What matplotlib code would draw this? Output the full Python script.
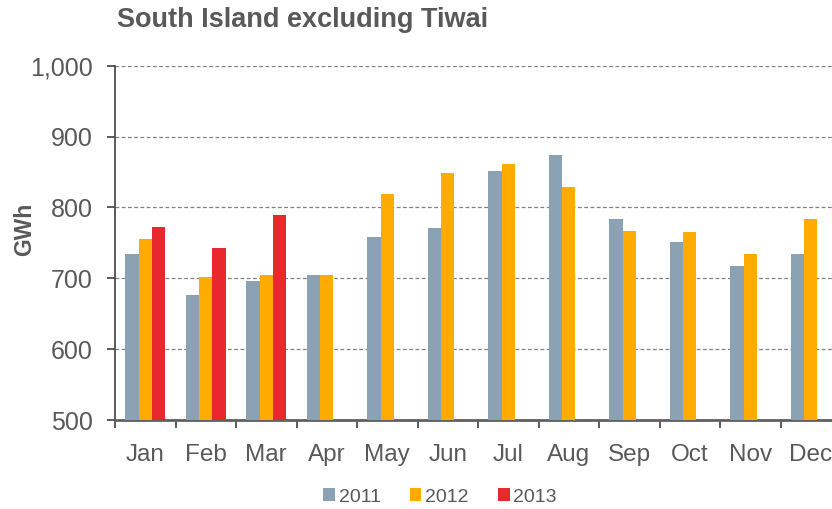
import numpy as np
import matplotlib.pyplot as plt
from matplotlib.ticker import FuncFormatter, FixedLocator

plt.rcParams['font.family'] = ['Liberation Sans', 'DejaVu Sans']

# Data
months = ['Jan', 'Feb', 'Mar', 'Apr', 'May', 'Jun', 'Jul', 'Aug', 'Sep', 'Oct', 'Nov', 'Dec']
gwh_2011 = [734, 677, 696, 705, 758, 771, 852, 874, 783, 751, 718, 734]
gwh_2012 = [756, 702, 705, 705, 819, 848, 861, 829, 767, 765, 734, 783]
gwh_2013 = [772, 743, 789]

c2011 = '#8ba1b4'
c2012 = '#ffab00'
c2013 = '#e8282c'
txt = '#595959'

fig = plt.figure(figsize=(8.32, 5.09), dpi=100)
ax = fig.add_axes([115/832, 1-420/509, 726/832, (420-65.7)/509])

x = np.arange(len(months))
w = 0.22
ax.bar(x - w, gwh_2011, w, color=c2011, label='2011', zorder=3)
ax.bar(x, gwh_2012, w, color=c2012, label='2012', zorder=3)
ax.bar(x[:len(gwh_2013)] + w, gwh_2013, w, color=c2013, label='2013', zorder=3)

ax.set_ylim(500, 1000)
ax.set_xlim(-0.5, len(months) - 0.5)
ax.set_yticks(np.arange(500, 1001, 100))
ax.yaxis.set_major_formatter(FuncFormatter(lambda v, p: f'{int(v):,}'))
ax.grid(axis='y', linestyle=(0, (3, 2)), color='#808080', linewidth=0.9, zorder=0)

ax.set_xticks(x)
ax.set_xticklabels(months)
ax.xaxis.set_minor_locator(FixedLocator(np.arange(-0.5, len(months), 1)))
ax.tick_params(axis='x', which='major', length=0, pad=17, labelsize=17.5, labelcolor=txt)
ax.tick_params(axis='x', which='minor', length=6, width=1.2, color='#404040', direction='out')
ax.tick_params(axis='y', length=6, width=1.2, color='#404040', direction='out', pad=10,
               labelsize=18, labelcolor=txt)

for s in ['top', 'right']:
    ax.spines[s].set_visible(False)
ax.spines['left'].set_color('#404040')
ax.spines['left'].set_linewidth(1.2)
ax.spines['bottom'].set_color('#606060')
ax.spines['bottom'].set_linewidth(2)

ax.set_ylabel('GWh', fontsize=16.5, fontweight='bold', color=txt, va='center')
ax.yaxis.set_label_coords(-90/726, (420-229)/354.3)

fig.text(117/832, 1-20/509, 'South Island excluding Tiwai', fontsize=19.5, fontweight='bold',
         color=txt, ha='left', va='center')

fig.legend(loc='center', bbox_to_anchor=(440/832, 1-497/509), ncol=3, frameon=False,
           fontsize=14, handlelength=0.6, handleheight=0.6, handletextpad=0.2,
           columnspacing=1.5, labelcolor=txt)

fig.savefig('out.png', dpi=100)
